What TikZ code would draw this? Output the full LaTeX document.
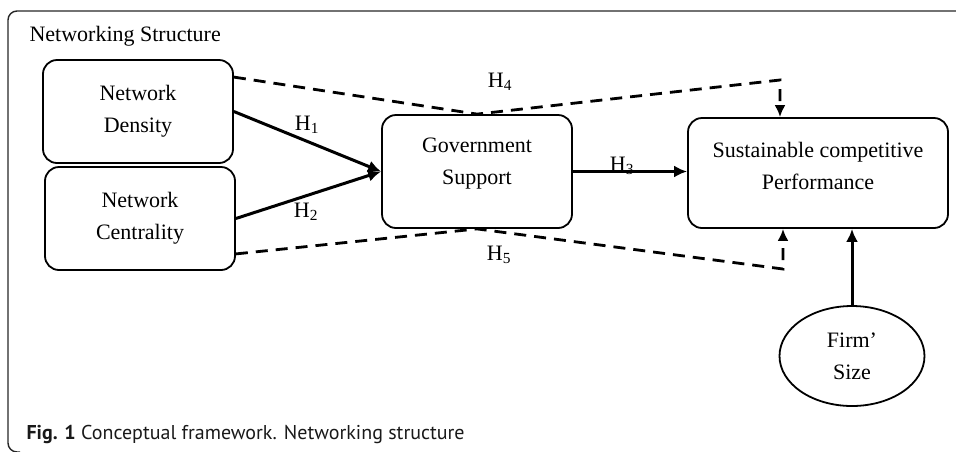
\documentclass[tikz,border=0pt]{standalone}
\usepackage{fontspec}
\setmainfont{Liberation Serif}
\newfontfamily\capfont{PT Sans}
\usetikzlibrary{shapes.geometric,arrows.meta}

\begin{document}
\begin{tikzpicture}
[
x=1pt,y=-1pt,
font=\fontsize{22}{32}\selectfont,
block/.style 2 args={draw,line width=1.8pt,rounded corners=14pt,minimum width=#1,minimum height=#2,inner sep=0pt,align=center},
hyp/.style={line width=3pt,-{Latex[length=13pt,width=12pt]}},
mod/.style={line width=2.8pt,dash pattern=on 12pt off 8pt,-{Latex[length=12pt,width=11pt]}},
toplabel/.style={label={[align=center,yshift=7.5pt]center:#1}},
]
\useasboundingbox (0,0) rectangle (956,451);

%Frame and titles
\draw[line width=1.4pt,rounded corners=9pt,black!85] (960,11) -- (8,11) -- (8,452) -- (20,452);
\node[anchor=west] (title) at (26,36) {Networking Structure};
\node[anchor=west,font=\capfont\fontsize{20}{25}\selectfont,black!90] (cap) at (23,434) {\textbf{Fig. 1} Conceptual framework. Networking structure};

%Place the nodes
\node[block={190}{103}] (dens) at (138,111.5) {Network\\Density};
\node[block={190}{103}] (cent) at (140,218.5) {Network\\Centrality};
\node[block={190}{113},toplabel={Government\\Support}] (gov) at (477,171.5) {};
\node[block={260}{110},toplabel={Sustainable competitive\\Performance}] (sust) at (818,173) {};
\node[draw,ellipse,line width=1.8pt,minimum width=145,minimum height=100,inner sep=0pt,align=center] (size) at (852,356) {Firm’\\Size};
\coordinate (h4a) at (780,80);
\coordinate (h5a) at (783,269);

%Draw the connections
\draw[hyp] (dens.east) -- (gov.west);
\draw[hyp] (cent.east) -- (gov.west);
\draw[hyp] (gov.east) -- (gov.east -| sust.west);
\draw[mod] ([yshift=-18pt]dens.north east) -- (gov.north) -- (h4a) -- (h4a |- sust.north);
\draw[mod] ([yshift=17pt]cent.south east) -- (gov.south) -- (h5a) -- (h5a |- sust.south);
\draw[hyp] (size) -- (size |- sust.south);

%Hypothesis labels
\node (h1) at (307,125) {H\textsubscript{1}};
\node (h2) at (306,212) {H\textsubscript{2}};
\node (h3) at (622,166) {H\textsubscript{3}};
\node (h4) at (500,82) {H\textsubscript{4}};
\node (h5) at (499,255) {H\textsubscript{5}};
\end{tikzpicture}
\end{document}
